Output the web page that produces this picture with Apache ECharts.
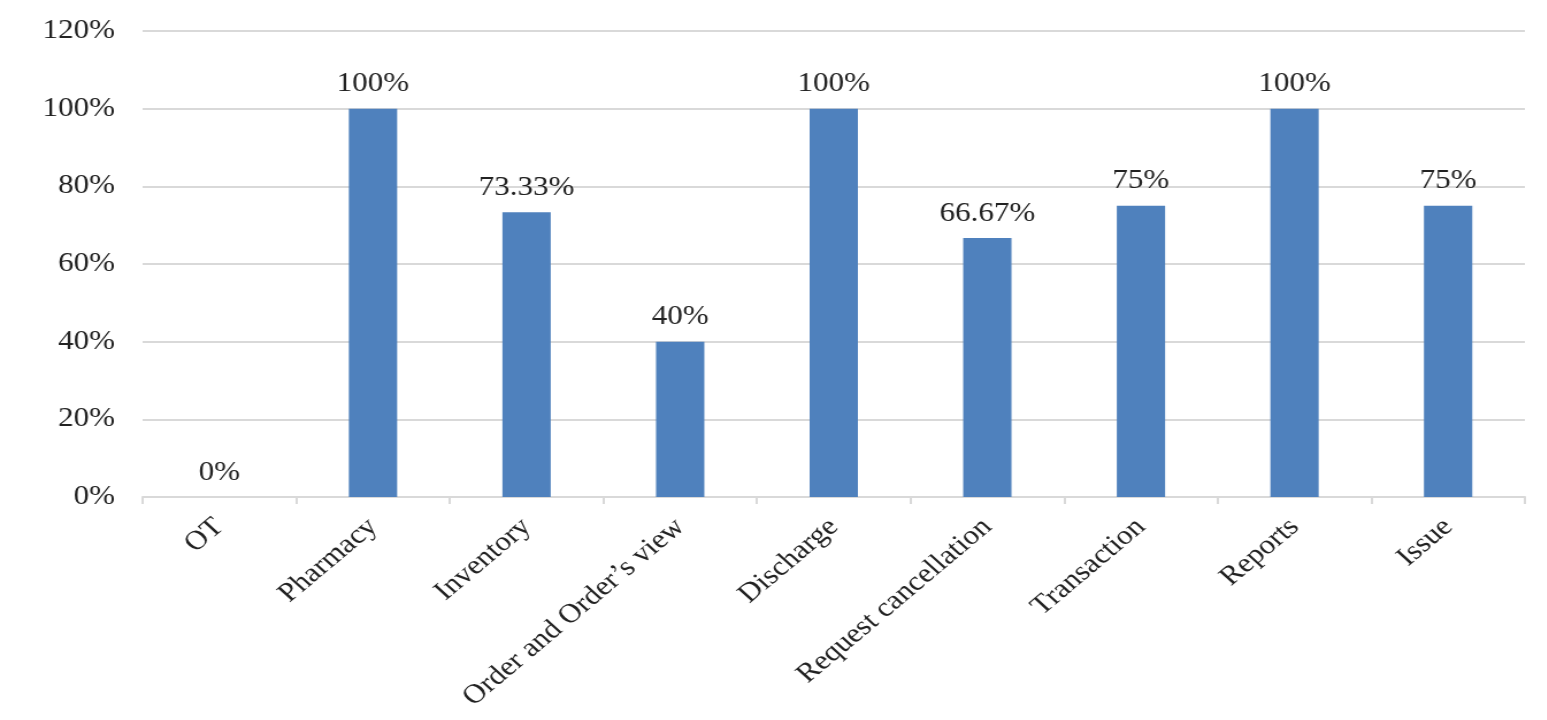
<!DOCTYPE html>
<html>
<head>
<meta charset="utf-8">
<title>Module completion</title>
<script src="https://cdn.jsdelivr.net/npm/echarts@6/dist/echarts.min.js"></script>
<style>
  html, body { margin: 0; padding: 0; background: #fff; overflow: hidden; }
  /* the source figure is stretched sideways; draw narrower and widen it */
  #chart { width: 1345px; height: 720px; transform: scaleX(1.15); transform-origin: 0 0; }
</style>
</head>
<body>
<div id="chart"></div>
<script>
/* ---- data ---- */
const categories = ["OT", "Pharmacy", "Inventory", "Order and Order\u2019s view", "Discharge",
  "Request cancellation", "Transaction", "Reports", "Issue"];
const values = [0, 100, 73.33, 40, 100, 66.67, 75, 100, 75];
const yTicks = [0, 20, 40, 60, 80, 100, 120];

const serif = "'Liberation Serif', 'Times New Roman', serif";
const grid = "#d9d9d9";

const chart = echarts.init(document.getElementById("chart"), null, { renderer: "canvas" });
chart.setOption({
  animation: false,
  backgroundColor: "#fff",
  grid: { left: 124, right: 19, top: 31, bottom: 223, containLabel: false, outerBoundsMode: "none" },
  xAxis: {
    type: "category",
    data: categories,
    axisLine: { lineStyle: { color: grid, width: 2 } },
    axisTick: { show: true, alignWithLabel: false, length: 7, lineStyle: { color: grid, width: 2 } },
    axisLabel: {
      rotate: 44, interval: 0, margin: 26,
      fontFamily: serif, fontSize: 27, color: "#222"
    }
  },
  yAxis: {
    type: "value",
    min: yTicks[0], max: yTicks[yTicks.length - 1], interval: 20,
    axisLine: { show: false },
    axisTick: { show: false },
    splitLine: { lineStyle: { color: grid, width: 2 } },
    axisLabel: {
      margin: 24, fontFamily: serif, fontSize: 27, color: "#222",
      formatter: (v) => v + "%"
    }
  },
  series: [{
    type: "bar",
    data: values,
    barWidth: 42,
    itemStyle: { color: "#4f81bd" },
    label: {
      show: true, position: "top", distance: 11,
      fontFamily: serif, fontSize: 27, color: "#222",
      formatter: (p) => p.value + "%"
    }
  }]
});
</script>
</body>
</html>
